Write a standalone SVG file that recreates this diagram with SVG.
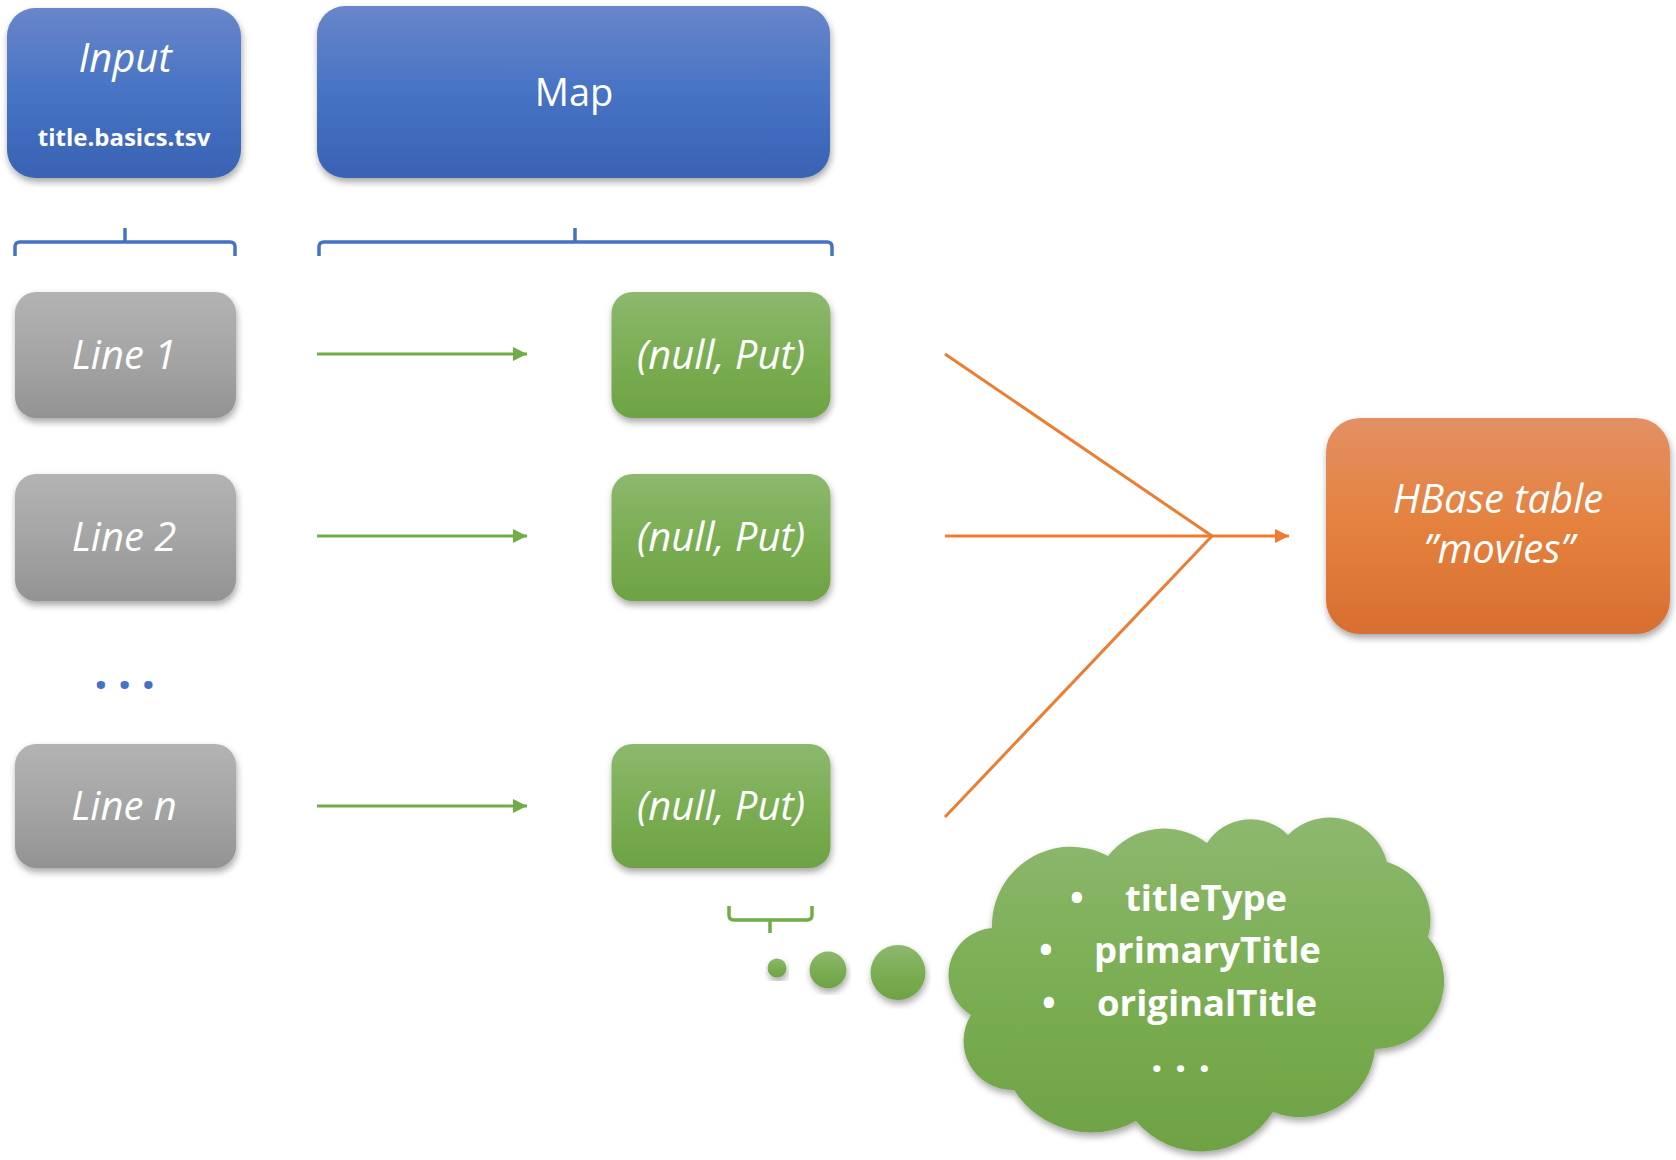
<svg xmlns="http://www.w3.org/2000/svg" width="1676" height="1160" viewBox="0 0 1676 1160">
<style>
.lbl{font-family:"Open Sans","Noto Sans",sans-serif;fill:#fff;text-anchor:middle}
.it{font-style:italic;font-size:40px}
.bd{font-weight:bold}
.cl{font-family:"Open Sans","Noto Sans",sans-serif;fill:#fff;font-weight:bold;font-size:36.5px}
.brace{fill:none;stroke-width:3.5;stroke-linecap:butt}
.conn{fill:none;stroke-width:3}
</style>
<defs>
<linearGradient id="gBlue" x1="0" y1="0" x2="0" y2="1"><stop offset="0" stop-color="#6986C9"/><stop offset="0.5" stop-color="#4773C5"/><stop offset="1" stop-color="#3A62B3"/></linearGradient>
<linearGradient id="gGrey" x1="0" y1="0" x2="0" y2="1"><stop offset="0" stop-color="#B3B3B3"/><stop offset="0.5" stop-color="#A5A5A5"/><stop offset="1" stop-color="#939393"/></linearGradient>
<linearGradient id="gGreen" x1="0" y1="0" x2="0" y2="1"><stop offset="0" stop-color="#8DB86E"/><stop offset="0.5" stop-color="#7BAE53"/><stop offset="1" stop-color="#6EA244"/></linearGradient>
<linearGradient id="gOrange" x1="0" y1="0" x2="0" y2="1"><stop offset="0" stop-color="#E39064"/><stop offset="0.5" stop-color="#E5813E"/><stop offset="1" stop-color="#D76E30"/></linearGradient>
<filter id="sh" x="-10%" y="-10%" width="120%" height="125%"><feDropShadow dx="1" dy="4" stdDeviation="3.5" flood-color="#000" flood-opacity="0.35"/></filter>
<marker id="aG" viewBox="0 0 14 14" refX="14" refY="7" markerWidth="14" markerHeight="14" markerUnits="userSpaceOnUse" orient="auto"><path d="M0 0 L14 7 L0 14 Z" fill="#70AD47"/></marker>
<marker id="aO" viewBox="0 0 14 14" refX="14" refY="7" markerWidth="14" markerHeight="14" markerUnits="userSpaceOnUse" orient="auto"><path d="M0 0 L14 7 L0 14 Z" fill="#ED7D31"/></marker>
</defs>
<rect width="1676" height="1160" fill="#fff"/>

<g id="input">
<rect x="7" y="8" width="234" height="170" rx="28" fill="url(#gBlue)" filter="url(#sh)"/>
<text class="lbl it" x="125" y="72">Input</text>
<text class="lbl bd" x="124" y="146" font-size="24">title.basics.tsv</text>
</g>
<g id="map">
<rect x="317" y="6" width="513" height="172" rx="28" fill="url(#gBlue)" filter="url(#sh)"/>
<text class="lbl" x="574" y="106" font-size="38">Map</text>
</g>

<g id="braces">
<path class="brace" stroke="#4472C4" d="M15 256 V247 Q15 242 20 242 H230 Q235 242 235 247 V256 M125 242 V228"/>
<path class="brace" stroke="#4472C4" d="M319 256 V247 Q319 242 324 242 H827 Q832 242 832 247 V256 M575 242 V228"/>
<path class="brace" stroke="#70AD47" d="M729 906 V915 Q729 920 734 920 H807 Q812 920 812 915 V906 M770 920 V933"/>
</g>

<g id="line1">
<rect x="15" y="292" width="221" height="126" rx="21" fill="url(#gGrey)" filter="url(#sh)"/>
<text class="lbl it" x="124" y="369">Line 1</text>
</g>
<g id="line2">
<rect x="15" y="474" width="221" height="127" rx="21" fill="url(#gGrey)" filter="url(#sh)"/>
<text class="lbl it" x="124" y="551">Line 2</text>
</g>
<text id="dots" x="94" y="689" font-family="Open Sans, sans-serif" font-weight="bold" font-size="48" letter-spacing="10" fill="#4472C4">...</text>
<g id="linen">
<rect x="15" y="744" width="221" height="124" rx="21" fill="url(#gGrey)" filter="url(#sh)"/>
<text class="lbl it" x="124" y="820">Line n</text>
</g>

<g id="put1">
<rect x="611.5" y="292" width="219" height="126" rx="21" fill="url(#gGreen)" filter="url(#sh)"/>
<text class="lbl it" x="721" y="369">(null, Put)</text>
</g>
<g id="put2">
<rect x="611.5" y="474" width="219" height="127" rx="21" fill="url(#gGreen)" filter="url(#sh)"/>
<text class="lbl it" x="721" y="551">(null, Put)</text>
</g>
<g id="putn">
<rect x="611.5" y="744" width="219" height="124" rx="21" fill="url(#gGreen)" filter="url(#sh)"/>
<text class="lbl it" x="721" y="820">(null, Put)</text>
</g>

<g id="hbase">
<rect x="1326" y="418" width="344" height="216" rx="34" fill="url(#gOrange)" filter="url(#sh)"/>
<text class="lbl it" x="1498" y="513">HBase table</text>
<text class="lbl it" x="1499" y="563">”movies”</text>
</g>

<g id="connectors">
<line class="conn" stroke="#70AD47" x1="317" y1="354" x2="527" y2="354" marker-end="url(#aG)"/>
<line class="conn" stroke="#70AD47" x1="317" y1="536" x2="527" y2="536" marker-end="url(#aG)"/>
<line class="conn" stroke="#70AD47" x1="317" y1="806" x2="527" y2="806" marker-end="url(#aG)"/>
<line class="conn" stroke="#ED7D31" x1="945" y1="354" x2="1212" y2="536"/>
<line class="conn" stroke="#ED7D31" x1="945" y1="817" x2="1212" y2="536"/>
<line class="conn" stroke="#ED7D31" x1="945" y1="536" x2="1289" y2="536" marker-end="url(#aO)"/>
</g>

<g id="thought">
<circle cx="777" cy="968" r="9.5" fill="url(#gGreen)" filter="url(#sh)"/>
<circle cx="828" cy="970" r="18.5" fill="url(#gGreen)" filter="url(#sh)"/>
<circle cx="898" cy="972.5" r="27.5" fill="url(#gGreen)" filter="url(#sh)"/>
<path fill="url(#gGreen)" filter="url(#sh)" d="M992 928 A79 79 0 0 1 1108 856 A71 71 0 0 1 1207 843 A52 52 0 0 1 1288 835 A59 59 0 0 1 1387 862 A60 60 0 0 1 1428 937 A68 68 0 0 1 1375 1049 A75 75 0 0 1 1273 1112 A85 85 0 0 1 1136 1121 A92 92 0 0 1 1014 1090 A49 49 0 0 1 971 1015 A47 47 0 0 1 992 928 Z"/>
<text class="cl" x="1070" y="911">•<tspan x="1125">titleType</tspan></text>
<text class="cl" x="1039" y="963">•<tspan x="1094">primaryTitle</tspan></text>
<text class="cl" x="1042" y="1016">•<tspan x="1097">originalTitle</tspan></text>
<text x="1151" y="1071.5" font-family="Open Sans, sans-serif" font-weight="bold" font-size="41" letter-spacing="12" fill="#fff">...</text>
</g>
</svg>
